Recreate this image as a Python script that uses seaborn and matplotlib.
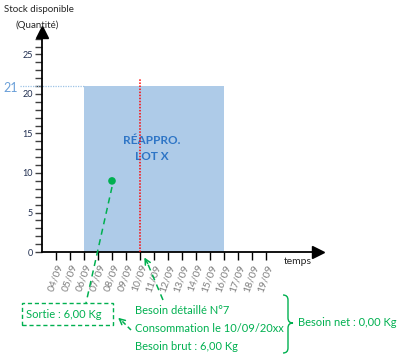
import matplotlib
matplotlib.use("Agg")
import matplotlib.pyplot as plt
import seaborn as sns
import pandas as pd
from matplotlib.patches import Rectangle, PathPatch
from matplotlib.path import Path

# data
day_labels = ["04/09", "05/09", "06/09", "07/09", "08/09", "09/09", "10/09", "11/09",
              "12/09", "13/09", "14/09", "15/09", "16/09", "17/09", "18/09", "19/09"]
day_ticks = [4, 5, 6, 7, 8, 9, 10, 11, 12, 13, 14, 15, 16, 17, 18, 19]
y_major = [0, 5, 10, 15, 20, 25]
y_minor = list(range(0, 28))

réappro_start = [6]
réappro_end = [16]
réappro_level = [21]
need_day = [10]
need_line_top = [22]
sortie = pd.DataFrame({"day": [8], "stock": [9]})

GREEN = "#00b050"
BLUE_FILL = "#aecbe8"
BLUE_TXT = "#2e75c6"
W, H = 399, 360

sns.set_style("white")
plt.rcParams["font.family"] = ["Lato", "DejaVu Sans"]

fig = plt.figure(figsize=(W / 100, H / 100), dpi=100)
# axes box: x 42..318 px, y 32..252 px (from top)
ax = fig.add_axes([42 / W, (H - 252) / H, 276 / W, 220 / H])
ax.set_xlim(3, 3 + 276 / 14)
ax.set_ylim(0, 220 / 7.9)


def px(x, y):
    return (x / W, 1 - y / H)


# replenishment block
ax.bar(réappro_start, réappro_level,
       width=[e - s for s, e in zip(réappro_start, réappro_end)],
       align="edge", color=BLUE_FILL, edgecolor="none", zorder=1)
ax.text(10.85, 13.1, "RÉAPPRO.\nLOT X",
        ha="center", va="center", color=BLUE_TXT, fontsize=8.5, fontweight="bold",
        linespacing=1.6, zorder=3)

# red dotted need line
ax.plot([need_day[0], need_day[0]], [0, need_line_top[0]], color="red",
        linestyle=(0, (1, 1)), linewidth=1.1, zorder=3)

# dotted level 21 line out to the left label
ax.plot([1.45, réappro_start[0]], [réappro_level[0]] * 2, color="#9dc3e6",
        linestyle=(0, (1, 1)), linewidth=0.9, clip_on=False, zorder=2)
fig.text(*px(3, 88), "21", color="#6a9fd8", fontsize=9, va="center", ha="left")

# sortie point
sns.scatterplot(data=sortie, x="day", y="stock", color=GREEN, s=30,
                edgecolor="none", ax=ax, zorder=4)

# axes styling
for side in ["top", "right"]:
    ax.spines[side].set_visible(False)
for side in ["left", "bottom"]:
    ax.spines[side].set_color("black")
    ax.spines[side].set_linewidth(1.3)
ax.plot(1, 0, ">", color="black", markersize=8, transform=ax.transAxes, clip_on=False)
ax.plot(0, 1, "^", color="black", markersize=8, transform=ax.transAxes, clip_on=False)

ax.set_xticks(day_ticks)
ax.set_xticklabels(day_labels, rotation=70, ha="right", va="top",
                   color="#808080", fontsize=7.5, rotation_mode="anchor")
ax.set_yticks(y_major)
ax.set_yticks(y_minor, minor=True)
ax.set_yticklabels([str(v) for v in y_major], fontsize=6.5, color="#1f2d4f")
ax.tick_params(axis="y", which="both", direction="out", length=5, width=1,
               color="#404040", left=True, pad=1.5)
ax.tick_params(axis="x", direction="out", length=6, width=1, color="black",
               bottom=True, pad=2)
ax.set_xlabel("")
ax.set_ylabel("")

# axis titles
fig.text(*px(4, 9), "Stock disponible", fontsize=7, va="center", ha="left")
fig.text(*px(16, 25), "(Quantité)", fontsize=7, va="center", ha="left")
fig.text(*px(284, 261), "temps", fontsize=7.5, va="center", ha="left")

# sortie box
fig.patches.append(Rectangle(px(22, 325), 91 / W, 22 / H, transform=fig.transFigure,
                             fill=False, edgecolor=GREEN, linestyle=(0, (3, 2)),
                             linewidth=1))
fig.text(*px(26, 315), "Sortie : 6,00 Kg", color=GREEN, fontsize=8, va="center")

# dashed connectors
fig.add_artist(plt.Line2D([112 / W, 86 / W], [1 - 187 / H, 1 - 303 / H],
                          transform=fig.transFigure, color=GREEN,
                          linestyle=(0, (4, 3)), linewidth=1.1))
fig.add_artist(plt.Line2D([163 / W, 147 / W], [1 - 300 / H, 1 - 262 / H],
                          transform=fig.transFigure, color=GREEN,
                          linestyle=(0, (4, 3)), linewidth=1.1))
ax.annotate("", xy=px(143, 255), xytext=px(149, 266), xycoords="figure fraction",
            textcoords="figure fraction",
            arrowprops=dict(arrowstyle="->", color=GREEN, lw=1.1))
fig.add_artist(plt.Line2D([131 / W, 121 / W], [1 - 330 / H, 1 - 320 / H],
                          transform=fig.transFigure, color=GREEN,
                          linestyle=(0, (3, 2)), linewidth=1.1))
ax.annotate("", xy=px(116, 316), xytext=px(123, 322), xycoords="figure fraction",
            textcoords="figure fraction",
            arrowprops=dict(arrowstyle="->", color=GREEN, lw=1.1))

# besoin text
fig.text(*px(135, 310), "Besoin détaillé N°7", color=GREEN, fontsize=8, va="center")
fig.text(*px(135, 328), "Consommation le 10/09/20xx", color=GREEN, fontsize=8, va="center")
fig.text(*px(135, 346), "Besoin brut : 6,00 Kg", color=GREEN, fontsize=8, va="center")

# curly brace
verts = [px(283, 295), px(288, 295), px(288, 300),
         px(288, 318), px(288, 323), px(293, 323),
         px(288, 323), px(288, 328),
         px(288, 348), px(288, 353), px(283, 353)]
codes = [Path.MOVETO, Path.CURVE3, Path.CURVE3,
         Path.LINETO, Path.CURVE3, Path.CURVE3,
         Path.CURVE3, Path.CURVE3,
         Path.LINETO, Path.CURVE3, Path.CURVE3]
fig.patches.append(PathPatch(Path(verts, codes), transform=fig.transFigure,
                             fill=False, edgecolor=GREEN, linewidth=1))
fig.text(*px(298, 323), "Besoin net : 0,00 Kg", color=GREEN, fontsize=8, va="center")

fig.savefig("out.png", dpi=100)
